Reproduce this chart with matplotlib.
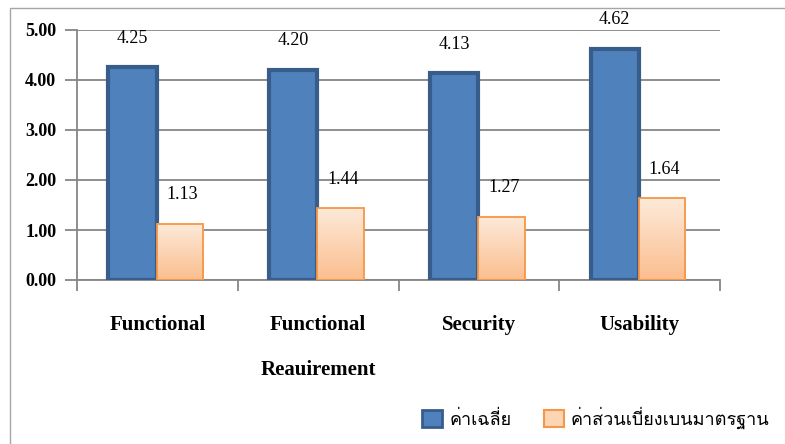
import matplotlib
matplotlib.use("Agg")
import matplotlib.pyplot as plt
import numpy as np
from matplotlib import font_manager
from matplotlib.ft2font import FT2Font
from matplotlib.patches import Rectangle, Patch

# data
categories = ["Functional", "Functional\nReauirement", "Security", "Usability"]
mean_vals = [4.25, 4.20, 4.13, 4.62]
sd_vals = [1.13, 1.44, 1.27, 1.64]
series_names = ["ค่าเฉลี่ย", "ค่าส่วนเบี่ยงเบนมาตรฐาน"]


def find_thai_font():
    # look for any installed font that has Thai glyphs
    for f in font_manager.fontManager.ttflist:
        try:
            cmap = FT2Font(f.fname).get_charmap()
        except Exception:
            continue
        if 0x0E04 in cmap and 0x0E40 in cmap:
            return f.name
    return "DejaVu Sans"


thai_font = find_thai_font()
serif = "Liberation Serif"

W, H = 785, 444
fig = plt.figure(figsize=(W / 100, H / 100), dpi=100)

# outer chart border
fig.patches.append(Rectangle((10 / W, -0.05), 1.2, (H - 8) / H + 0.05,
                             transform=fig.transFigure, fill=False,
                             edgecolor="#A6A6A6", lw=1.0))

# axes: left at x=77px, y0 at 280px, y5 at 30px, 160px per category
ax = fig.add_axes([77 / W, (H - 280) / H, 643 / W, 250 / H])
x = np.arange(len(categories))
bw_blue = 0.3
bw_or = 0.29

ax.bar(x - bw_blue / 2 - 0.005, mean_vals, width=bw_blue,
       color="#4F81BD", edgecolor="#385D8A", linewidth=3, zorder=3)
or_bars = ax.bar(x + bw_or / 2 - 0.005, sd_vals, width=bw_or,
                 color="#FCD5B5", edgecolor="#F79646", linewidth=1.3, zorder=3)

# gradient fill for the orange bars
grad = np.linspace(0, 1, 256).reshape(-1, 1)
cmap = matplotlib.colors.LinearSegmentedColormap.from_list("o", ["#FDEADA", "#FBBE8E"])
for b in or_bars:
    bx, by = b.get_x(), b.get_y()
    im = ax.imshow(grad, cmap=cmap, aspect="auto", origin="upper",
                   extent=[bx, bx + b.get_width(), by, by + b.get_height()],
                   zorder=3.5)
    im.set_clip_path(b)
    b.set_zorder(4)
    b.set_facecolor("none")

# data labels
for i in range(len(categories)):
    ax.text(x[i] - bw_blue / 2 - 0.005, mean_vals[i] + 0.58, f"{mean_vals[i]:.2f}",
            ha="center", va="center", family=serif, fontsize=13)
    ax.text(x[i] + bw_or / 2 + 0.01, sd_vals[i] + 0.58, f"{sd_vals[i]:.2f}",
            ha="center", va="center", family=serif, fontsize=13)

ax.set_xlim(-0.5, len(categories) - 0.5)
ax.set_ylim(0, 5)
ax.set_yticks(np.arange(0, 5.01, 1))
ax.set_yticklabels([f"{v:.2f}" for v in np.arange(0, 5.01, 1)],
                   family=serif, fontweight="bold", fontsize=13)
ax.yaxis.grid(True, color="#868686", lw=1.3, zorder=0)
ax.tick_params(axis="y", length=9, color="#868686", width=1.3, pad=6)

ax.set_xticks(np.arange(-0.5, len(categories), 1))
ax.set_xticklabels([])
ax.set_xticks(x, minor=True)
ax.set_xticklabels(categories, minor=True, family=serif, fontweight="bold",
                   fontsize=15, linespacing=2.7, va="top")
ax.tick_params(axis="x", which="major", length=8, color="#868686", width=1.3)
ax.tick_params(axis="x", which="minor", length=0, pad=25)

ax.spines["top"].set_visible(False)
for s in ["left", "bottom", "right"]:
    ax.spines[s].set_color("#868686")
    ax.spines[s].set_linewidth(1.3)
ax.spines["right"].set_bounds(0, 0)

handles = [Patch(facecolor="#4F81BD", edgecolor="#385D8A", lw=2),
           Patch(facecolor="#FCD5B5", edgecolor="#F79646", lw=1.5)]
fig.legend(handles, series_names, loc="center right",
           bbox_to_anchor=(786 / W, (H - 418) / H), ncol=2, frameon=False,
           prop={"family": [thai_font, "DejaVu Sans"], "size": 13},
           handlelength=1.1, handleheight=1.1, columnspacing=1.8, handletextpad=0.4)

fig.savefig("out.png", dpi=100)
